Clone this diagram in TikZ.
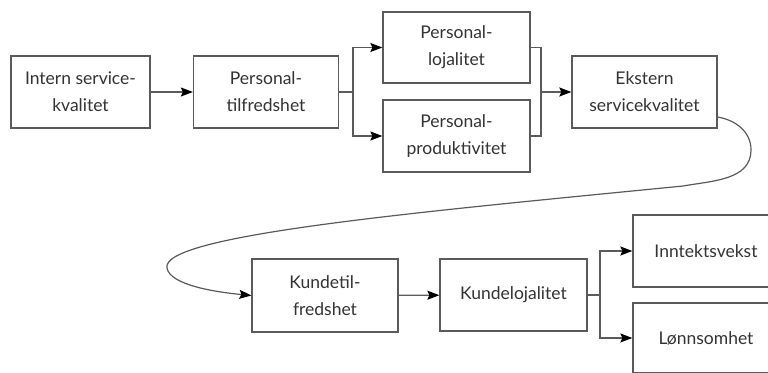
\documentclass[tikz,border=0pt]{standalone}
\usepackage{fontspec}
\setmainfont{Lato}
\usetikzlibrary{arrows.meta}
\definecolor{linegray}{HTML}{5A5A5A}
\definecolor{textgray}{HTML}{333333}
\tikzset{
  stage/.style={draw=linegray, line width=1.3pt, rectangle, align=center,
    text=textgray, font=\fontsize{17.5}{27}\selectfont, inner sep=0pt},
  flow/.style={draw=linegray, line width=1.2pt},
  tip/.style={flow, -{Stealth[length=12pt,width=9pt,inset=2pt,color=black]}}
}
\begin{document}
\begin{tikzpicture}[x=1pt,y=-1pt]
\useasboundingbox (0,0) rectangle (768,372);
\clip (0,0) rectangle (768,372);
% employee side of the chain
\node[stage, minimum width=139pt, minimum height=72pt] (b1) at (80.5,92) {Intern service-\\kvalitet};
\node[stage, minimum width=145pt, minimum height=72pt] (b2) at (266,92) {Personal-\\tilfredshet};
\node[stage, minimum width=147pt, minimum height=71pt] (b3) at (456.5,47.5) {Personal-\\lojalitet};
\node[stage, minimum width=147pt, minimum height=72pt] (b4) at (456.5,136) {Personal-\\produktivitet};
\node[stage, minimum width=145pt, minimum height=72pt] (b5) at (644.5,92) {Ekstern\\servicekvalitet};
% customer side of the chain
\node[stage, minimum width=146pt, minimum height=73pt] (b6) at (325,295.5) {Kundetil-\\fredshet};
\node[stage, minimum width=147pt, minimum height=72pt] (b7) at (513.5,295) {Kundelojalitet};
\node[stage, minimum width=146pt, minimum height=72pt] (b8) at (706,251) {Inntektsvekst};
\node[stage, minimum width=146pt, minimum height=70pt] (b9) at (706,338) {Lønnsomhet};
% branch and join points
\coordinate (f1) at (353,92);
\coordinate (j1) at (541,92);
\coordinate (f2) at (600,295);
\coordinate (turnR) at (751,150);
\coordinate (mid) at (683,186);
\coordinate (turnL) at (167,268);
% connectors
\draw[tip] (b1) -- (b2);
\draw[flow] (b2.east) -- (f1);
\draw[tip] (f1) |- (b3.west);
\draw[tip] (f1) |- (b4.west);
\draw[flow] (b3.east) -| (j1) |- (b4.east);
\draw[tip] (j1) -- (b5.west);
\draw[tip] ([yshift=-25pt]b5.east) to[out=-10,in=90] (turnR)
  to[out=-90,in=10] (mid)
  .. controls (420,212) and (160,235) .. (turnL)
  .. controls (170,285) and (215,292) .. (b6.west);
\draw[tip] (b6) -- (b7);
\draw[flow] (b7.east) -- (f2);
\draw[tip] (f2) |- (b8.west);
\draw[tip] (f2) |- (b9.west);
\end{tikzpicture}
\end{document}
